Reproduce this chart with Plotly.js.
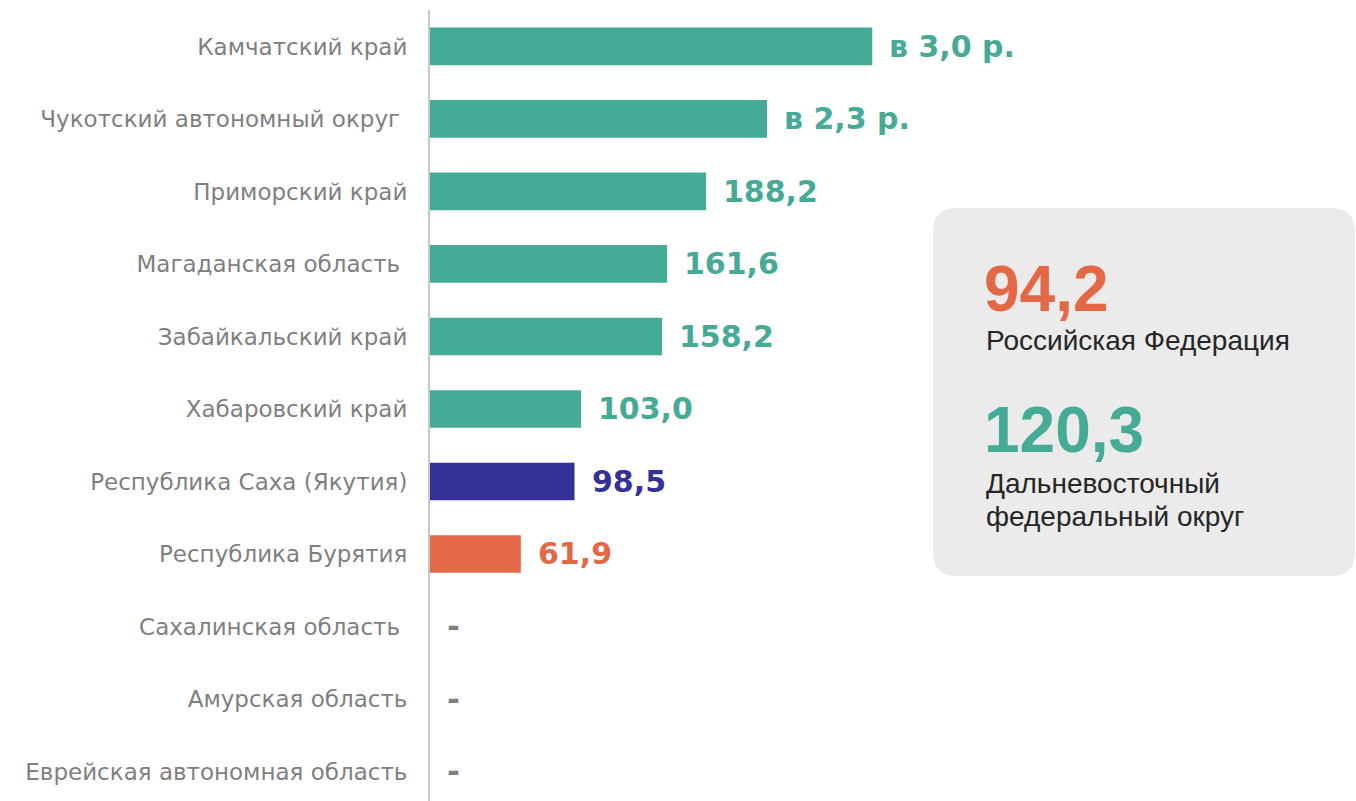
<!DOCTYPE html>
<html>
<head>
<meta charset="utf-8">
<script src="https://cdn.plot.ly/plotly-3.0.1.min.js"></script>
<style>
  html, body { margin: 0; padding: 0; background: #ffffff; }
  #chart { width: 1356px; height: 801px; }
</style>
</head>
<body>
<div id="chart"></div>
<script>
// ---- data ----
const categories = [
  "Камчатский край",
  "Чукотский автономный округ\u00a0",
  "Приморский край",
  "Магаданская область\u00a0",
  "Забайкальский край",
  "Хабаровский край",
  "Республика Саха (Якутия)",
  "Республика Бурятия",
  "Сахалинская область\u00a0",
  "Амурская область",
  "Еврейская автономная область"
];
const values = [301.5, 229.7, 188.2, 161.6, 158.2, 103.0, 98.5, 61.9, null, null, null];
const valueLabels = ["в 3,0 р.", "в 2,3 р.", "188,2", "161,6", "158,2", "103,0", "98,5", "61,9", "-", "-", "-"];
const groups = ["dfo", "dfo", "dfo", "dfo", "dfo", "dfo", "sakha", "buryatia", "none", "none", "none"];
const russiaValue = "94,2";
const russiaLabel = "Российская Федерация";
const dfoValue = "120,3";
const dfoLabel = ["Дальневосточный", "федеральный округ"];

// ---- styles ----
const palette = { dfo: "#45aa96", sakha: "#353297", buryatia: "#e36845", none: "#7f7f7f" };
const barColors = groups.map(g => palette[g]);

// ---- geometry helpers (plot area: l=430, t=10, w=926, h=791) ----
const L = 430, T = 10, W = 926, H = 791;
const px = v => (v - L) / W;
const py = v => (T + H - v) / H;

const trace = {
  type: "bar",
  orientation: "h",
  y: categories,
  x: values,
  width: 0.52,
  marker: { color: barColors },
  hoverinfo: "skip",
  showlegend: false
};

const annotations = categories.map((c, i) => ({
  x: values[i] === null ? 0 : values[i],
  y: c,
  xref: "x", yref: "y",
  text: valueLabels[i],
  showarrow: false,
  xanchor: "left", yanchor: "middle",
  xshift: 15,
  font: { family: "DejaVu Sans", size: values[i] === null ? 31 : 30, color: barColors[i], weight: "bold" }
}));

function boxText(text, xPix, yPix, size, color, bold) {
  return {
    x: px(xPix), y: py(yPix), xref: "paper", yref: "paper",
    text: text, showarrow: false, xanchor: "left", yanchor: "middle",
    font: { family: "Arial, Liberation Sans", size: size, color: color, weight: bold ? "bold" : "normal" }
  };
}
annotations.push(boxText(russiaValue, 982, 289, 64, palette.buryatia, true));
annotations.push(boxText(russiaLabel, 984, 340, 28, "#262626", false));
annotations.push(boxText(dfoValue, 982, 430, 64, palette.dfo, true));
annotations.push(boxText(dfoLabel[0], 984, 483, 28, "#262626", false));
annotations.push(boxText(dfoLabel[1], 984, 516, 28, "#262626", false));

// rounded grey panel
const bx0 = 933, bx1 = 1355, by0 = 208, by1 = 576, r = 24;
const P = (x, y) => px(x).toFixed(5) + "," + py(y).toFixed(5);
const panelPath =
  "M" + P(bx0 + r, by0) + " L" + P(bx1 - r, by0) + " Q" + P(bx1, by0) + " " + P(bx1, by0 + r) +
  " L" + P(bx1, by1 - r) + " Q" + P(bx1, by1) + " " + P(bx1 - r, by1) +
  " L" + P(bx0 + r, by1) + " Q" + P(bx0, by1) + " " + P(bx0, by1 - r) +
  " L" + P(bx0, by0 + r) + " Q" + P(bx0, by0) + " " + P(bx0 + r, by0) + " Z";

const layout = {
  width: 1356, height: 801,
  margin: { l: L, r: 1356 - L - W, t: T, b: 801 - T - H, pad: 0 },
  paper_bgcolor: "#ffffff",
  plot_bgcolor: "#ffffff",
  bargap: 0.48,
  xaxis: {
    range: [0, W / 1.467],
    showgrid: false, zeroline: false, showticklabels: false, showline: false, fixedrange: true
  },
  yaxis: {
    type: "category",
    range: [10.407, -0.503],
    showgrid: false, zeroline: false,
    showline: true, linecolor: "#c8c8c8", linewidth: 2,
    ticks: "",
    ticklabelstandoff: 16,
    tickfont: { family: "DejaVu Sans", size: 23, color: "#7f7f7f" },
    automargin: false,
    fixedrange: true
  },
  shapes: [{
    type: "path", xref: "paper", yref: "paper", path: panelPath,
    fillcolor: "#ebebeb", line: { width: 0 }, layer: "below"
  }],
  annotations: annotations
};

Plotly.newPlot("chart", [trace], layout, { displayModeBar: false, staticPlot: true });
</script>
</body>
</html>
